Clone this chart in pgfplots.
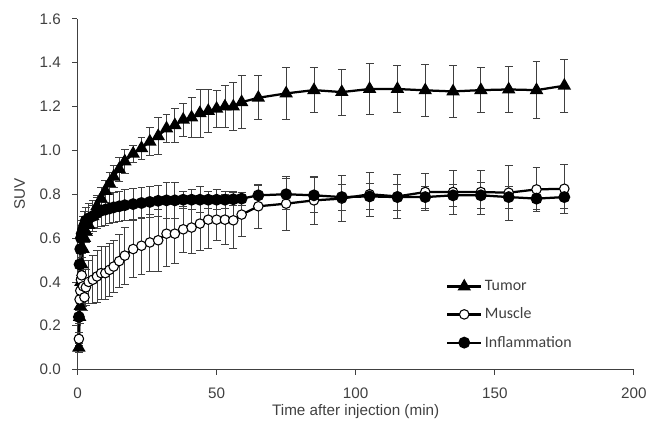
\documentclass[border=0pt]{standalone}
\usepackage{fontspec}
\setmainfont{Liberation Sans}
\newfontfamily\legfont{Carlito}
\usepackage{pgfplots}
\pgfplotsset{compat=1.18}

\definecolor{axgray}{HTML}{404040}
\definecolor{ebgray}{HTML}{404040}

\pgfplotsset{
  suvline/.style={black, line width=1.7pt},
  ebars/.style={
    error bars/.cd, y dir=both, y explicit,
    error bar style={ebgray, line width=0.6pt, solid},
    error mark options={ebgray, rotate=90, mark size=3pt, line width=0.6pt, solid},
  },
}

\begin{document}
\begin{tikzpicture}
\begin{axis}[
  at={(0,0)}, anchor=south west,
  scale only axis,
  width=420pt, height=264.75pt,
  xmin=0, xmax=200, ymin=0, ymax=1.6,
  xtick={0,50,100,150,200},
  ytick={0,0.2,...,1.6},
  axis lines=left,
  axis line style={-, axgray, line width=0.6pt},
  tick style={axgray, line width=0.6pt},
  tick align=outside,
  major tick length=4pt,
  clip=false,
  /pgf/number format/assume math mode=true,
  ticklabel style={font=\fontsize{11.5}{13}\selectfont, text=axgray},
  yticklabel style={xshift=-5pt, /pgf/number format/.cd, fixed, fixed zerofill, precision=1},
  xticklabel style={yshift=-6pt},
  label style={font=\fontsize{11.5}{13}\selectfont, text=axgray},
  xlabel={Time after injection (min)},
  ylabel={SUV},
  xlabel style={at={(axis description cs:0.5,-0.12)}, anchor=center},
  ylabel style={at={(axis description cs:-0.104,0.5)}, anchor=center, rotate=0},
  legend style={at={(0.655,0.27)}, anchor=north west, draw=none, fill=none,
    font=\legfont\fontsize{12}{14}\selectfont, text=axgray, row sep=7.5pt,
    /tikz/every even column/.append style={column sep=2pt}},
  legend cell align=left,
  legend image code/.code={\draw[mark repeat=2,mark phase=2,#1] plot coordinates {(0cm,0cm) (0.45cm,0cm) (0.9cm,0cm)};},
]

% Tumor
\addplot[suvline, mark=triangle*, mark size=4.2pt, mark options={solid, fill=black}, ebars]
coordinates {
(0.5,0.10) +- (0,0.02)
(0.75,0.24) +- (0,0.03)
(1,0.29) +- (0,0.04)
(1.25,0.40) +- (0,0.05)
(1.5,0.48) +- (0,0.05)
(2,0.55) +- (0,0.05)
(2.5,0.60) +- (0,0.05)
(3,0.63) +- (0,0.05)
(4,0.66) +- (0,0.05)
(5.5,0.70) +- (0,0.05)
(7,0.745) +- (0,0.05)
(8.5,0.78) +- (0,0.05)
(10,0.815) +- (0,0.05)
(11.5,0.85) +- (0,0.05)
(13,0.88) +- (0,0.05)
(15,0.915) +- (0,0.055)
(17,0.95) +- (0,0.055)
(20,0.985) +- (0,0.04)
(23,1.01) +- (0,0.05)
(26,1.04) +- (0,0.065)
(29,1.065) +- (0,0.085)
(32,1.10) +- (0,0.063)
(35,1.115) +- (0,0.078)
(38,1.14) +- (0,0.075)
(41,1.15) +- (0,0.09)
(44,1.17) +- (0,0.11)
(47,1.18) +- (0,0.10)
(50,1.19) +- (0,0.083)
(53,1.20) +- (0,0.095)
(56,1.20) +- (0,0.11)
(59,1.22) +- (0,0.12)
(65,1.24) +- (0,0.10)
(75,1.26) +- (0,0.117)
(85,1.275) +- (0,0.103)
(95,1.266) +- (0,0.105)
(105,1.28) +- (0,0.115)
(115,1.28) +- (0,0.108)
(125,1.274) +- (0,0.12)
(135,1.269) +- (0,0.117)
(145,1.275) +- (0,0.103)
(155,1.278) +- (0,0.105)
(165,1.275) +- (0,0.13)
(175,1.295) +- (0,0.12)
};
\addlegendentry{Tumor}

% Muscle
\addplot[suvline, mark=*, mark size=3.6pt, mark options={solid, fill=white, draw=black, line width=0.8pt}, ebars]
coordinates {
(0.5,0.14) +- (0,0.03)
(0.75,0.32) +- (0,0.05)
(1,0.36) +- (0,0.06)
(1.25,0.41) +- (0,0.07)
(1.5,0.43) +- (0,0.08)
(2,0.38) +- (0,0.09)
(2.5,0.33) +- (0,0.06)
(3,0.375) +- (0,0.08)
(4,0.40) +- (0,0.10)
(5.5,0.41) +- (0,0.11)
(7,0.425) +- (0,0.12)
(8.5,0.44) +- (0,0.12)
(10,0.44) +- (0,0.12)
(11.5,0.455) +- (0,0.12)
(13,0.47) +- (0,0.12)
(15,0.495) +- (0,0.12)
(17,0.52) +- (0,0.13)
(20,0.55) +- (0,0.13)
(23,0.565) +- (0,0.13)
(26,0.58) +- (0,0.13)
(29,0.59) +- (0,0.14)
(32,0.62) +- (0,0.15)
(35,0.62) +- (0,0.135)
(38,0.64) +- (0,0.106)
(41,0.648) +- (0,0.118)
(44,0.666) +- (0,0.12)
(47,0.684) +- (0,0.13)
(50,0.684) +- (0,0.094)
(53,0.684) +- (0,0.115)
(56,0.681) +- (0,0.13)
(59,0.707) +- (0,0.10)
(65,0.745) +- (0,0.10)
(75,0.757) +- (0,0.124)
(85,0.772) +- (0,0.11)
(95,0.78) +- (0,0.106)
(105,0.80) +- (0,0.10)
(115,0.79) +- (0,0.10)
(125,0.81) +- (0,0.083)
(135,0.81) +- (0,0.10)
(145,0.81) +- (0,0.10)
(155,0.807) +- (0,0.126)
(165,0.822) +- (0,0.10)
(175,0.825) +- (0,0.113)
};
\addlegendentry{Muscle}

% Inflammation
\addplot[suvline, mark=*, mark size=3.6pt, mark options={solid, fill=black}, ebars]
coordinates {
(0.5,0.24) +- (0,0.03)
(0.75,0.48) +- (0,0.05)
(1,0.55) +- (0,0.06)
(1.25,0.60) +- (0,0.06)
(1.5,0.62) +- (0,0.06)
(2,0.64) +- (0,0.06)
(2.5,0.66) +- (0,0.06)
(3,0.68) +- (0,0.06)
(4,0.69) +- (0,0.07)
(5.5,0.70) +- (0,0.07)
(7,0.715) +- (0,0.07)
(8.5,0.725) +- (0,0.07)
(10,0.73) +- (0,0.07)
(11.5,0.735) +- (0,0.07)
(13,0.74) +- (0,0.07)
(15,0.745) +- (0,0.07)
(17,0.75) +- (0,0.07)
(20,0.755) +- (0,0.07)
(23,0.76) +- (0,0.07)
(26,0.765) +- (0,0.07)
(29,0.77) +- (0,0.07)
(32,0.772) +- (0,0.08)
(35,0.772) +- (0,0.08)
(38,0.775) +- (0,0.04)
(41,0.775) +- (0,0.045)
(44,0.775) +- (0,0.06)
(47,0.775) +- (0,0.04)
(50,0.775) +- (0,0.045)
(53,0.775) +- (0,0.04)
(56,0.777) +- (0,0.03)
(59,0.78) +- (0,0.03)
(65,0.795) +- (0,0.045)
(75,0.80) +- (0,0.07)
(85,0.795) +- (0,0.08)
(95,0.787) +- (0,0.06)
(105,0.79) +- (0,0.06)
(115,0.787) +- (0,0.06)
(125,0.787) +- (0,0.05)
(135,0.795) +- (0,0.05)
(145,0.795) +- (0,0.06)
(155,0.787) +- (0,0.05)
(165,0.78) +- (0,0.05)
(175,0.787) +- (0,0.05)
};
\addlegendentry{Inflammation}

\end{axis}
\path (-58.5pt,-41.25pt) rectangle (429.75pt,279pt);
\end{tikzpicture}
\end{document}
